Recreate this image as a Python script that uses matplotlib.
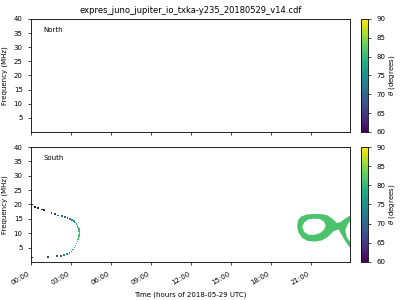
import matplotlib
matplotlib.use("Agg")
import matplotlib.pyplot as plt
import numpy as np

title = "expres_juno_jupiter_io_txka-y235_20180529_v14.cdf"
xtick_hours = [0, 3, 6, 9, 12, 15, 18, 21]
xtick_labels = ["00:00", "03:00", "06:00", "09:00", "12:00", "15:00", "18:00", "21:00"]
yticks = [5, 10, 15, 20, 25, 30, 35, 40]
cbar_ticks = [60, 65, 70, 75, 80, 85, 90]

# south hemisphere, early arc (hours, MHz, theta deg)
arc_time = [0.05, 0.3, 0.55, 0.8, 0.95, 1.55, 1.8, 2.05, 2.35, 2.55, 2.75, 2.95,
            3.1, 3.22, 3.32, 3.42, 3.5, 3.55, 3.6, 3.63, 3.65, 3.63, 3.6, 3.57,
            3.53, 3.48, 3.42, 3.35, 3.27, 3.17, 3.05, 2.9, 2.72, 2.5, 2.25, 1.95,
            1.3, 0.05]
arc_freq = [20.0, 19.2, 18.8, 18.3, 18.0, 17.0, 16.6, 16.2, 15.9, 15.7, 15.4, 15.0,
            14.6, 14.2, 13.7, 13.2, 12.6, 12.0, 11.4, 10.8, 10.2, 9.6, 9.0, 8.4,
            7.8, 7.1, 6.4, 5.7, 5.0, 4.3, 3.7, 3.2, 2.8, 2.5, 2.2, 2.0,
            1.75, 1.55]
arc_theta = [60, 60.5, 61, 61.5, 62, 63, 64, 66, 69, 71, 73, 74,
             75, 76, 77, 78, 79, 80, 80.5, 81, 81, 81, 81, 80.5,
             80, 80, 79.5, 79, 78.5, 78, 77, 76, 75, 73, 71, 69,
             66, 60]

# south hemisphere, late "loop" emission outline
loop_time = [19.99, 20.06, 20.29, 20.70, 21.30, 21.83, 22.28, 22.65, 22.95, 23.25,
             23.55, 24.08, 24.08, 23.78, 23.60, 23.70, 24.08, 24.08, 23.63, 23.33,
             23.10, 22.73, 22.28, 21.83, 21.30, 20.78, 20.36, 20.10, 19.99]
loop_freq = [12.87, 14.61, 15.83, 16.52, 16.70, 16.63, 16.17, 14.96, 13.57, 13.91,
             14.96, 16.52, 14.96, 13.22, 11.13, 8.70, 6.26, 4.17, 6.96, 9.39,
             11.30, 10.78, 8.70, 7.48, 7.13, 7.30, 8.35, 10.09, 11.83]
hole_time = [20.36, 20.51, 20.81, 21.23, 21.68, 21.98, 22.13, 22.01, 21.71, 21.30,
             20.85, 20.51]
hole_freq = [12.17, 13.74, 14.78, 15.06, 14.96, 14.09, 12.70, 11.30, 10.09, 9.46,
             9.46, 10.43]
loop_theta = 81.5

plt.rcParams['font.size'] = 5
fig = plt.figure(figsize=(4, 3), dpi=100)
ax_n = fig.add_axes([0.0775, 0.56, 0.7975, 0.3767])
ax_s = fig.add_axes([0.0775, 0.1267, 0.7975, 0.3833])
cax_n = fig.add_axes([0.9025, 0.56, 0.0175, 0.3767])
cax_s = fig.add_axes([0.9025, 0.1267, 0.0175, 0.3833])

cmap = plt.get_cmap("viridis")
norm = matplotlib.colors.Normalize(vmin=60, vmax=90)

ax_s.fill(loop_time, loop_freq, color=cmap(norm(loop_theta)), lw=0)
ax_s.fill(hole_time, hole_freq, color="white", lw=0)
sc = ax_s.scatter(arc_time, arc_freq, c=arc_theta, cmap=cmap, norm=norm,
                  marker="s", s=1.5, lw=0)

for ax, name in [(ax_n, "North"), (ax_s, "South")]:
    ax.set_xlim(0, 23.95)
    ax.set_ylim(0, 40)
    ax.set_yticks(yticks)
    ax.set_xticks(xtick_hours)
    ax.set_ylabel("Frequency (MHz)", fontsize=5)
    ax.text(0.04, 0.9, name, transform=ax.transAxes, fontsize=5, va="center")
    ax.tick_params(labelsize=5, length=2.5, width=0.5)
    for sp in ax.spines.values():
        sp.set_linewidth(0.6)

ax_n.set_xticklabels([])
ax_s.set_xticklabels(xtick_labels, rotation=30, ha="right")
ax_s.set_xlabel("Time (hours of 2018-05-29 UTC)", fontsize=5)
ax_n.set_title(title, fontsize=6, pad=4)

for cax in [cax_n, cax_s]:
    cb = fig.colorbar(matplotlib.cm.ScalarMappable(norm=norm, cmap=cmap), cax=cax)
    cb.set_ticks(cbar_ticks)
    cb.set_label(r"$\theta$ (degrees)", fontsize=5, labelpad=1)
    cb.ax.tick_params(labelsize=5, length=2.5, width=0.5)
    cb.outline.set_linewidth(0.6)

fig.savefig("out.png", dpi=100)
